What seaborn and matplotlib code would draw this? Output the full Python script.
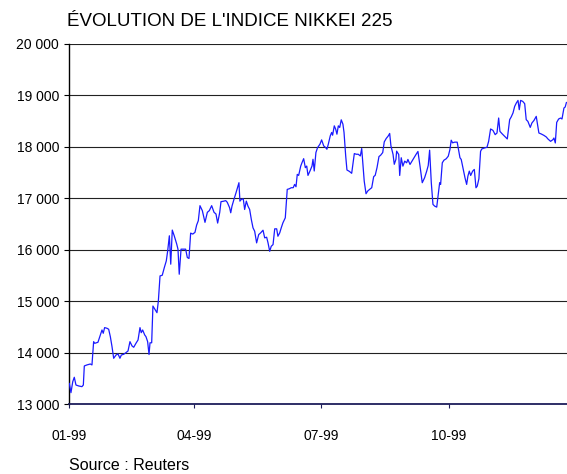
import matplotlib
matplotlib.use("Agg")
import matplotlib.pyplot as plt
import seaborn as sns
import pandas as pd

# Trading-day position (days since 1999-01-01) and Nikkei 225 close
day = [
    0.2, 1.4, 2.7, 3.8, 5.0, 7.0, 9.3, 10.3, 11.0, 12.9,
    15.3, 16.5, 17.7, 18.5, 20.8, 22.5, 23.7, 24.6, 25.6, 27.3,
    28.5, 29.7, 30.9, 32.1, 33.8, 35.2, 36.6, 37.6, 39.3, 40.9,
    42.4, 43.8, 45.3, 46.5, 48.1, 49.6, 51.0, 51.9, 52.9, 54.4,
    55.3, 56.5, 57.5, 58.2, 59.4, 60.3, 61.8, 63.2, 64.2, 65.4,
    67.0, 68.5, 69.9, 70.9, 72.1, 73.1, 74.2, 75.6, 77.4, 78.3,
    79.2, 80.5, 82.1, 83.8, 85.0, 86.2, 87.4, 88.9, 90.5, 91.7,
    92.9, 94.1, 95.8, 97.7, 99.4, 100.8, 102.5, 104.2, 105.6, 106.8,
    108.3, 109.2, 110.8, 112.6, 113.7, 115.4, 116.2, 117.1, 118.5, 120.0,
    121.4, 122.1, 122.8, 123.8, 125.2, 126.2, 127.4, 128.6, 129.8, 131.0,
    132.2, 133.4, 134.8, 136.3, 137.7, 139.4, 140.6, 142.0, 143.0, 144.2,
    145.3, 146.6, 147.8, 149.2, 150.1, 151.4, 152.5, 153.7, 155.4, 156.8,
    158.3, 159.7, 161.1, 162.1, 163.1, 164.0, 165.0, 166.5, 167.4, 168.6,
    169.8, 170.8, 171.7, 173.1, 174.6, 175.3, 176.2, 177.4, 178.6, 180.3,
    181.5, 183.0, 184.4, 185.3, 186.3, 187.7, 188.7, 189.4, 190.6, 191.6,
    192.5, 193.5, 194.5, 195.6, 196.8, 197.6, 198.8, 199.7, 201.4, 203.1,
    205.0, 206.4, 207.8, 209.3, 210.3, 211.4, 212.1, 213.4, 214.6, 216.0,
    217.5, 218.9, 220.0, 221.3, 222.7, 223.9, 225.4, 226.5, 227.9, 229.4,
    230.4, 231.3, 232.8, 233.7, 234.9, 235.4, 236.9, 237.6, 238.7, 239.9,
    241.2, 242.6, 243.5, 245.0, 246.4, 247.8, 249.3, 250.7, 252.2, 253.8,
    255.5, 257.0, 258.1, 259.1, 260.3, 261.5, 262.7, 264.2, 266.3, 267.0,
    268.2, 269.4, 271.0, 272.5, 273.7, 274.6, 275.6, 277.1, 278.9, 280.9,
    281.8, 283.3, 284.5, 285.7, 286.6, 287.6, 288.6, 290.0, 291.2, 292.4,
    293.3, 294.5, 295.7, 296.6, 298.6, 300.3, 301.5, 302.9, 304.6, 306.2,
    307.5, 308.7, 309.6, 311.1, 313.0, 314.9, 316.6, 317.7, 319.0, 320.2,
    321.4, 322.6, 323.5, 324.5, 326.0, 327.4, 328.5, 329.7, 331.4, 332.6,
    334.1, 335.7, 337.6, 339.3, 341.2, 342.9, 344.1, 346.0, 347.7, 348.4,
    349.4, 350.4, 351.8, 353.2, 354.2, 355.6, 356.5, 357.4,
]
close = [
    13408, 13226, 13440, 13525, 13375, 13356, 13343, 13375, 13745, 13765,
    13783, 13765, 14217, 14185, 14205, 14347, 14444, 14380, 14490, 14477,
    14458, 14314, 14120, 13894, 13958, 13978, 13894, 13958, 13972, 14003,
    14036, 14217, 14133, 14108, 14185, 14250, 14490, 14392, 14444, 14347,
    14314, 14217, 13967, 14195, 14195, 14909, 14844, 14780, 15006, 15494,
    15507, 15658, 15786, 15981, 16274, 15722, 16385, 16274, 16112, 16014,
    15527, 16014, 16014, 16014, 15852, 15833, 16326, 16307, 16340, 16482,
    16567, 16859, 16762, 16535, 16730, 16762, 16859, 16730, 16697, 16521,
    16730, 16937, 16944, 16957, 16925, 16818, 16721, 16849, 16980, 17110,
    17239, 17305, 16947, 16980, 16993, 16785, 16947, 16849, 16785, 16590,
    16429, 16362, 16136, 16298, 16331, 16382, 16234, 16246, 16136, 15973,
    16070, 16103, 16409, 16409, 16265, 16331, 16429, 16526, 16623, 17175,
    17188, 17208, 17208, 17272, 17227, 17467, 17447, 17629, 17694, 17772,
    17597, 17629, 17447, 17531, 17629, 17760, 17533, 17891, 17988, 18053,
    18137, 18020, 17988, 17955, 18053, 18215, 18281, 18228, 18410, 18345,
    18248, 18410, 18378, 18527, 18443, 18281, 17825, 17552, 17526, 17488,
    17871, 17858, 17858, 17825, 17969, 17566, 17338, 17091, 17143, 17176,
    17208, 17423, 17449, 17598, 17813, 17839, 17891, 18098, 18164, 18215,
    18262, 18020, 17858, 17663, 17760, 17918, 17853, 17446, 17790, 17627,
    17724, 17692, 17757, 17660, 17724, 17790, 17853, 17912, 17627, 17305,
    17402, 17530, 17640, 17937, 17305, 16884, 16851, 16831, 17305, 17272,
    17692, 17743, 17770, 17821, 17951, 18131, 18080, 18093, 18093, 17790,
    17757, 17563, 17402, 17272, 17433, 17530, 17446, 17530, 17563, 17207,
    17239, 17382, 17915, 17961, 17981, 17993, 18109, 18349, 18322, 18239,
    18271, 18562, 18303, 18258, 18206, 18155, 18530, 18582, 18660, 18788,
    18854, 18904, 18724, 18904, 18885, 18840, 18530, 18497, 18380, 18466,
    18516, 18594, 18271, 18252, 18225, 18194, 18155, 18109, 18142, 18174,
    18077, 18477, 18543, 18562, 18543, 18756, 18776, 18866,
]

month_ticks = [0, 90, 181, 273]
month_labels = ["01-99", "04-99", "07-99", "10-99"]
y_ticks = [13000, 14000, 15000, 16000, 17000, 18000, 19000, 20000]
y_labels = ["13 000", "14 000", "15 000", "16 000", "17 000", "18 000", "19 000", "20 000"]

title = "ÉVOLUTION DE L'INDICE NIKKEI 225"
source = "Source : Reuters"

df = pd.DataFrame({"day": day, "close": close})

sns.set_theme(style="white")
plt.rcParams["font.family"] = ["Liberation Sans", "DejaVu Sans"]

fig = plt.figure(figsize=(5.67, 4.74), dpi=100)
ax = fig.add_axes([69 / 567, 69.7 / 474, 498 / 567, 360.3 / 474])

for yv in y_ticks[1:]:
    ax.axhline(yv, color="#222222", lw=0.8, zorder=1)

sns.lineplot(data=df, x="day", y="close", ax=ax, color="#1a1aff",
             linewidth=0.9, zorder=3)

ax.set_xlim(0, 357.8)
ax.set_ylim(13000, 20000)
ax.set_xticks(month_ticks)
ax.set_xticklabels(month_labels)
ax.set_yticks(y_ticks)
ax.set_yticklabels(y_labels)
ax.set_xlabel("")
ax.set_ylabel("")

for s in ["top", "right"]:
    ax.spines[s].set_visible(False)
ax.spines["left"].set_color("black")
ax.spines["left"].set_linewidth(1.0)
ax.spines["bottom"].set_color("#1c1c5a")
ax.spines["bottom"].set_linewidth(1.3)

ax.tick_params(axis="y", direction="out", length=3.6, width=0.8, color="black",
               pad=3.5, labelsize=10, labelcolor="black", left=True)
ax.tick_params(axis="x", direction="out", length=3, width=0.8, color="#1c1c5a",
               pad=15, labelsize=10, labelcolor="black", bottom=True)
ax.set_facecolor("white")

fig.text(67 / 567, 1 - 21 / 474, title, fontsize=13.5, ha="left", va="center",
         color="black")
fig.text(69 / 567, 1 - 465 / 474, source, fontsize=11.5, ha="left", va="center",
         color="black")

fig.savefig("out.png", dpi=100, facecolor="white")
